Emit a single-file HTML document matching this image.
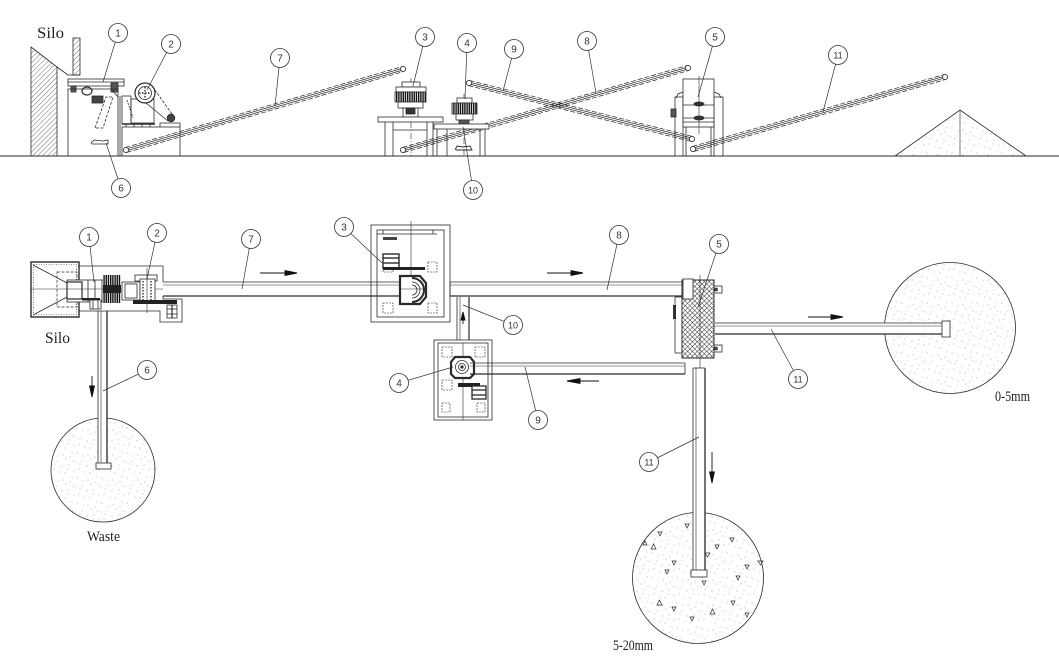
<!DOCTYPE html>
<html><head><meta charset="utf-8"><style>
html,body{margin:0;padding:0;background:#fff;}
svg{display:block;}
.n{font-family:"Liberation Sans",sans-serif;font-size:10px;fill:#333;}
.s{font-family:"Liberation Serif",serif;fill:#222;}
</style></head><body>
<svg width="1059" height="659" viewBox="0 0 1059 659" xmlns="http://www.w3.org/2000/svg">
<defs>
<pattern id="dots" width="25" height="25" patternUnits="userSpaceOnUse">
<circle cx="2" cy="3" r="0.55" fill="#999"/><circle cx="7" cy="11" r="0.5" fill="#aaa"/><circle cx="13" cy="5" r="0.55" fill="#999"/><circle cx="19" cy="15" r="0.5" fill="#999"/><circle cx="22" cy="2" r="0.5" fill="#aaa"/><circle cx="4" cy="19" r="0.55" fill="#999"/><circle cx="10" cy="22" r="0.5" fill="#aaa"/><circle cx="16" cy="9" r="0.55" fill="#999"/><circle cx="24" cy="20" r="0.5" fill="#999"/><circle cx="1" cy="12" r="0.5" fill="#aaa"/><circle cx="12" cy="16" r="0.55" fill="#999"/><circle cx="20" cy="7" r="0.5" fill="#999"/><circle cx="8" cy="6" r="0.5" fill="#aaa"/><circle cx="15" cy="23" r="0.55" fill="#999"/><circle cx="5" cy="14" r="0.5" fill="#999"/><circle cx="18" cy="19" r="0.5" fill="#aaa"/><circle cx="23" cy="11" r="0.5" fill="#999"/>
</pattern>
<pattern id="hatch" width="3.5" height="3.5" patternUnits="userSpaceOnUse" patternTransform="rotate(45)">
<line x1="0" y1="0" x2="0" y2="3.5" stroke="#333" stroke-width="0.7"/>
</pattern>
<pattern id="xh" width="3.4" height="3.4" patternUnits="userSpaceOnUse" patternTransform="rotate(45)">
<rect width="3.4" height="3.4" fill="#fff"/>
<line x1="0" y1="0" x2="0" y2="3.4" stroke="#222" stroke-width="0.9"/>
<line x1="0" y1="0" x2="3.4" y2="0" stroke="#222" stroke-width="0.9"/>
</pattern>
<pattern id="vs" width="2.2" height="4" patternUnits="userSpaceOnUse">
<rect width="2.2" height="4" fill="#fff"/><rect width="1.4" height="4" fill="#111"/>
</pattern>
</defs>

<g stroke="#2a2a2a" stroke-width="0.8" fill="none">
<!-- ============ ELEVATION ============ -->
<line x1="0" y1="156" x2="1059" y2="156" stroke-width="1"/>

<!-- silo -->
<polygon points="31,47 57,67 57,156 31,156" fill="url(#hatch)"/>
<line x1="57" y1="67" x2="68" y2="75"/>
<line x1="68" y1="75" x2="80" y2="75"/>
<rect x="73" y="38" width="7" height="37" fill="url(#hatch)"/>

<!-- feeder 1 -->
<rect x="68" y="79" width="56" height="7" fill="#fff"/>
<line x1="68" y1="82" x2="124" y2="82"/>
<rect x="71" y="86" width="5" height="6" fill="#555"/>
<rect x="111" y="83" width="7" height="9" fill="#555"/>
<ellipse cx="87" cy="91" rx="5" ry="4" fill="#fff" stroke-width="1.2"/>
<rect x="92" y="96" width="11" height="7" fill="#444"/>
<rect x="68" y="89" width="50" height="67"/>
<line x1="120" y1="96" x2="120" y2="156"/>
<line x1="112" y1="90" x2="118" y2="97"/>
<polyline points="95,128 106,97 113,97 103,128 95,128" stroke-dasharray="3 1.5"/>
<polyline points="91,143 94,140 103,141 108,140 108,144 92,144 91,143" stroke-width="0.8"/>

<!-- jaw crusher 2 -->
<rect x="122" y="96" width="9" height="28"/>
<rect x="131" y="99" width="23" height="24"/>
<line x1="127" y1="100" x2="133" y2="118" stroke-dasharray="2 1"/>
<line x1="122" y1="124" x2="155" y2="124" stroke-width="1.5"/>
<line x1="126" y1="124" x2="126" y2="127"/><line x1="134" y1="124" x2="134" y2="127"/><line x1="142" y1="124" x2="142" y2="127"/><line x1="150" y1="124" x2="150" y2="127"/>
<circle cx="145" cy="93" r="10" fill="#fff" stroke-width="1.2"/>
<circle cx="145" cy="93" r="6.5"/>
<line x1="139" y1="93" x2="151" y2="93" stroke-dasharray="1.5 1.5" stroke-width="1.4"/>
<line x1="145" y1="87" x2="145" y2="99" stroke-dasharray="1.5 1.5" stroke-width="1.4"/>
<line x1="152" y1="86" x2="172" y2="114" stroke-dasharray="3 1.5"/>
<line x1="146" y1="103" x2="168" y2="121"/>
<rect x="122" y="127" width="58" height="29"/>
<polyline points="160,127 160,123 180,123 180,127"/>
<circle cx="171" cy="118" r="3.8" fill="#444"/>

<!-- conveyors elevation -->
<g transform="translate(126,150) rotate(-16.3)">
<line x1="0" y1="-2.6" x2="288.6" y2="-2.6" stroke-dasharray="5 2" stroke-width="0.7"/>
<line x1="0" y1="-0.9" x2="288.6" y2="-0.9" stroke-width="0.7"/>
<line x1="0" y1="0.9" x2="288.6" y2="0.9" stroke-width="0.7"/>
<line x1="0" y1="2.6" x2="288.6" y2="2.6" stroke-dasharray="5 2" stroke-width="0.7"/>
<circle cx="0" cy="0" r="2.6" fill="#fff"/><circle cx="288.6" cy="0" r="2.6" fill="#fff"/>
</g>
<g transform="translate(403,150) rotate(-16.05)">
<line x1="0" y1="-2.6" x2="296.6" y2="-2.6" stroke-dasharray="5 2" stroke-width="0.7"/>
<line x1="0" y1="-0.9" x2="296.6" y2="-0.9" stroke-width="0.7"/>
<line x1="0" y1="0.9" x2="296.6" y2="0.9" stroke-width="0.7"/>
<line x1="0" y1="2.6" x2="296.6" y2="2.6" stroke-dasharray="5 2" stroke-width="0.7"/>
<circle cx="0" cy="0" r="2.6" fill="#fff"/><circle cx="296.6" cy="0" r="2.6" fill="#fff"/>
</g>
<g transform="translate(469,83) rotate(14.1)">
<line x1="0" y1="-2.6" x2="229.9" y2="-2.6" stroke-dasharray="5 2" stroke-width="0.7"/>
<line x1="0" y1="-0.9" x2="229.9" y2="-0.9" stroke-width="0.7"/>
<line x1="0" y1="0.9" x2="229.9" y2="0.9" stroke-width="0.7"/>
<line x1="0" y1="2.6" x2="229.9" y2="2.6" stroke-dasharray="5 2" stroke-width="0.7"/>
<circle cx="0" cy="0" r="2.6" fill="#fff"/><circle cx="229.9" cy="0" r="2.6" fill="#fff"/>
</g>
<g transform="translate(693,149) rotate(-15.95)">
<line x1="0" y1="-2.6" x2="262.1" y2="-2.6" stroke-dasharray="5 2" stroke-width="0.7"/>
<line x1="0" y1="-0.9" x2="262.1" y2="-0.9" stroke-width="0.7"/>
<line x1="0" y1="0.9" x2="262.1" y2="0.9" stroke-width="0.7"/>
<line x1="0" y1="2.6" x2="262.1" y2="2.6" stroke-dasharray="5 2" stroke-width="0.7"/>
<circle cx="0" cy="0" r="2.6" fill="#fff"/><circle cx="262.1" cy="0" r="2.6" fill="#fff"/>
</g>

<!-- cone crusher 3 -->
<line x1="411" y1="78" x2="411" y2="156" stroke-dasharray="6 2 1 2" stroke-width="0.6"/>
<rect x="402" y="82" width="18" height="5" fill="#fff"/>
<rect x="396" y="87" width="30" height="5" fill="#fff"/>
<rect x="395" y="92" width="31" height="10" fill="url(#vs)"/>
<rect x="398" y="102" width="25" height="6" fill="#fff"/>
<rect x="403" y="108" width="15" height="9" fill="#fff"/>
<rect x="406" y="108" width="9" height="6" fill="#333"/>
<rect x="378" y="117" width="65" height="5" fill="#fff"/>
<line x1="385" y1="122" x2="385" y2="156"/><line x1="393" y1="122" x2="393" y2="156"/>
<line x1="427" y1="122" x2="427" y2="156"/><line x1="433" y1="122" x2="433" y2="156"/>
<line x1="393" y1="130" x2="427" y2="130"/>

<!-- cone crusher 4 -->
<line x1="464" y1="94" x2="464" y2="156" stroke-dasharray="6 2 1 2" stroke-width="0.6"/>
<rect x="457" y="98" width="15" height="5" fill="#fff"/>
<rect x="452" y="103" width="25" height="11" fill="url(#vs)"/>
<rect x="456" y="114" width="17" height="6" fill="#fff"/>
<rect x="459" y="120" width="10" height="5" fill="#555"/>
<rect x="434" y="124" width="55" height="5" fill="#fff"/>
<line x1="437" y1="129" x2="437" y2="156"/><line x1="447" y1="129" x2="447" y2="156"/>
<line x1="480" y1="129" x2="480" y2="156"/><line x1="485" y1="129" x2="485" y2="156"/>
<polyline points="455,150 457,146 463,147 470,146 472,150 456,150" stroke-width="0.9"/>

<!-- screen 5 -->
<rect x="675" y="97" width="8" height="59"/>
<rect x="714" y="97" width="9" height="59"/>
<line x1="686" y1="127" x2="686" y2="156"/><line x1="711" y1="127" x2="711" y2="156"/>
<rect x="683" y="79" width="31" height="48" fill="#fff"/>
<line x1="683" y1="105" x2="714" y2="105"/>
<line x1="683" y1="118" x2="714" y2="118"/>
<line x1="683" y1="122" x2="714" y2="122"/>
<polyline points="683,92 678,94 676,98"/><polyline points="714,92 719,94 721,98"/>
<ellipse cx="699" cy="104" rx="5" ry="2" fill="#333"/>
<ellipse cx="699" cy="118" rx="5" ry="2" fill="#333"/>
<rect x="671" y="109" width="5" height="8" fill="#555"/>
<line x1="699" y1="76" x2="699" y2="134" stroke-width="0.6"/>

<!-- pile -->
<polygon points="895,156 960,110 1026,156" fill="url(#dots)"/>
<line x1="960" y1="110" x2="960" y2="156" stroke-width="0.6"/>

<!-- ============ PLAN ============ -->
<!-- circles -->
<circle cx="103" cy="470" r="52" fill="url(#dots)"/>
<circle cx="950" cy="328" r="65.5" fill="url(#dots)"/>
<circle cx="698" cy="578" r="65.5" fill="url(#dots)"/>
<g stroke-width="0.7">
<polygon points="685,524 689,524 687,528"/><polygon points="658,532 662,532 660,536"/><polygon points="651,549 656,549 653.5,544"/><polygon points="643,545 647,545 645,541"/><polygon points="715,545 719,545 717,549"/><polygon points="730,538 734,538 732,542"/><polygon points="705,553 710,553 707.5,557"/><polygon points="672,561 676,561 674,565"/><polygon points="665,570 669,570 667,574"/><polygon points="745,565 749,565 747,569"/><polygon points="758,561 763,561 760.5,565"/><polygon points="736,576 740,576 738,580"/><polygon points="702,581 706,581 704,585"/><polygon points="657,605 662,605 659.5,600"/><polygon points="672,607 676,607 674,611"/><polygon points="710,614 715,614 712.5,609"/><polygon points="731,601 735,601 733,605"/><polygon points="690,617 694,617 692,621"/><polygon points="745,613 749,613 747,617"/>
</g>

<!-- silo plan -->
<rect x="31" y="262" width="48" height="55" stroke-width="1.4"/>
<rect x="33.5" y="264.5" width="43" height="50" stroke-dasharray="1 1.5" stroke-width="0.6"/>
<line x1="33" y1="265" x2="67" y2="283"/>
<line x1="33" y1="315" x2="67" y2="297"/>
<rect x="57" y="272" width="20" height="35" stroke-dasharray="3 1.5" stroke-width="0.7"/>
<line x1="31" y1="289" x2="163" y2="289" stroke-width="0.6"/>

<!-- outline -->
<polyline points="79,266 163,266 163,282"/>
<polyline points="163,296 163,299 182,299 182,322 160,322 160,311 79,311"/>

<!-- feeder plan -->
<rect x="67" y="280" width="42" height="22" fill="#fff"/>
<rect x="67" y="282" width="15" height="17" stroke-width="1.2"/>
<line x1="88" y1="280" x2="88" y2="302"/><line x1="95" y1="280" x2="95" y2="302"/><line x1="102" y1="280" x2="102" y2="302"/>
<line x1="67" y1="289" x2="109" y2="289" stroke-width="0.6"/>
<rect x="103" y="275" width="18" height="28" fill="url(#vs)" stroke="none"/>
<rect x="103" y="285" width="18" height="8" fill="#222" stroke="none"/>
<rect x="122" y="282" width="18" height="18" fill="#fff"/>
<rect x="125" y="284" width="12" height="14"/>
<rect x="82" y="298" width="18" height="2.5" fill="#222" stroke="none"/>
<rect x="90" y="300" width="11" height="9" fill="#fff"/>
<line x1="93" y1="300" x2="93" y2="309"/><line x1="98" y1="300" x2="98" y2="309"/>

<!-- crusher 2 plan -->
<rect x="135" y="275" width="22" height="6" fill="#fff"/>
<rect x="140" y="279" width="15" height="23" fill="#fff"/>
<line x1="143" y1="281" x2="143" y2="300" stroke-dasharray="1.5 1.5" stroke-width="1.4"/>
<line x1="151" y1="281" x2="151" y2="300" stroke-dasharray="1.5 1.5" stroke-width="1.4"/>
<line x1="147" y1="268" x2="147" y2="313" stroke-width="0.6"/>
<rect x="133" y="300" width="44" height="4" fill="#222" stroke="none"/>
<rect x="167" y="305" width="10" height="13" fill="#fff"/>
<line x1="167" y1="309" x2="177" y2="309"/><line x1="167" y1="314" x2="177" y2="314"/>
<line x1="172" y1="305" x2="172" y2="318" stroke-width="1.2"/>

<!-- conveyor 7 plan -->
<line x1="163" y1="282" x2="405" y2="282"/>
<line x1="163" y1="285" x2="405" y2="285" stroke-width="0.6"/>
<line x1="163" y1="296" x2="405" y2="296" stroke-width="1.3"/>
<path d="M405,282 A7,7 0 0 1 405,296"/>

<!-- crusher 3 plan -->
<rect x="371" y="225" width="79" height="97"/>
<rect x="377" y="230" width="67" height="87"/>
<line x1="411" y1="221" x2="411" y2="276" stroke-width="0.6"/>
<line x1="377" y1="234" x2="437" y2="234"/>
<line x1="383" y1="230" x2="383" y2="234"/><line x1="433" y1="230" x2="433" y2="234"/>
<rect x="383" y="237" width="14" height="3" fill="#444" stroke="none"/>
<rect x="383" y="262" width="10" height="10" stroke-dasharray="2 1" stroke-width="0.6"/>
<rect x="428" y="262" width="9" height="10" stroke-dasharray="2 1" stroke-width="0.6"/>
<rect x="383" y="303" width="10" height="10" stroke-dasharray="2 1" stroke-width="0.6"/>
<rect x="428" y="303" width="9" height="10" stroke-dasharray="2 1" stroke-width="0.6"/>
<rect x="383" y="254" width="16" height="14" fill="#fff" stroke-width="1.4"/>
<line x1="383" y1="258" x2="399" y2="258" stroke-width="1.4"/><line x1="383" y1="263" x2="399" y2="263" stroke-width="1.4"/>
<rect x="383" y="267" width="42" height="3" fill="#222" stroke="none"/>
<polygon points="400,276 420,276 426,283 426,297 420,304 400,304" fill="#fff" stroke-width="2.2"/>
<path d="M412,278 A12,12 0 0 1 412,302" stroke-width="2"/>
<path d="M412,282 A8,8 0 0 1 412,298"/>
<path d="M412,285 A5,5 0 0 1 412,295"/>
<line x1="400" y1="289" x2="426" y2="289" stroke-width="0.6"/>

<!-- conveyor 8 plan -->
<line x1="450" y1="282" x2="683" y2="282"/>
<line x1="450" y1="285" x2="683" y2="285" stroke-width="0.6"/>
<line x1="450" y1="296" x2="683" y2="296" stroke-width="1.3"/>
<line x1="450" y1="282" x2="450" y2="296"/>

<!-- conveyor 10 -->
<line x1="457" y1="297" x2="457" y2="340"/>
<line x1="460" y1="297" x2="460" y2="340" stroke-width="0.6"/>
<line x1="469" y1="297" x2="469" y2="340" stroke-width="1.2"/>

<!-- crusher 4 plan -->
<rect x="434" y="340" width="58" height="80"/>
<rect x="438" y="343" width="50" height="74"/>
<line x1="463" y1="343" x2="463" y2="420" stroke-width="0.6"/>
<rect x="442" y="347" width="10" height="10" stroke-dasharray="2 1" stroke-width="0.6"/>
<rect x="475" y="347" width="10" height="10" stroke-dasharray="2 1" stroke-width="0.6"/>
<rect x="442" y="380" width="10" height="10" stroke-dasharray="2 1" stroke-width="0.6"/>
<rect x="442" y="403" width="8" height="9" stroke-dasharray="2 1" stroke-width="0.6"/>
<rect x="477" y="403" width="8" height="9" stroke-dasharray="2 1" stroke-width="0.6"/>
<polygon points="455,357 470,357 474,362 474,374 470,378 455,378 451,374 451,362" fill="#fff" stroke-width="2.2"/>
<circle cx="462" cy="367" r="6.5"/>
<circle cx="462" cy="367" r="3.5"/>
<circle cx="462" cy="367" r="1.2" fill="#333"/>
<rect x="458" y="383" width="22" height="4" fill="#222" stroke="none"/>
<rect x="472" y="386" width="14" height="13" fill="#fff" stroke-width="1.3"/>
<line x1="472" y1="390" x2="486" y2="390" stroke-width="1.3"/><line x1="472" y1="395" x2="486" y2="395" stroke-width="1.3"/>

<!-- conveyor 9 plan -->
<line x1="470" y1="363" x2="685" y2="363"/>
<line x1="470" y1="366" x2="685" y2="366" stroke-width="0.6"/>
<line x1="470" y1="374" x2="685" y2="374" stroke-width="1.3"/>
<line x1="685" y1="363" x2="685" y2="374"/>

<!-- screen 5 plan -->
<line x1="675" y1="297" x2="675" y2="353"/>
<line x1="682" y1="297" x2="682" y2="353"/>
<line x1="675" y1="297" x2="682" y2="297"/><line x1="675" y1="353" x2="682" y2="353"/>
<rect x="673" y="305" width="3" height="14" fill="#333" stroke="none"/>
<rect x="682" y="280" width="32" height="78" fill="url(#xh)" stroke-width="1"/>
<rect x="683" y="279" width="10" height="20" fill="#fff"/>
<rect x="714" y="286" width="8" height="7"/><circle cx="716" cy="289.5" r="1.5" fill="#555"/>
<rect x="714" y="345" width="8" height="7"/><circle cx="716" cy="348.5" r="1.5" fill="#555"/>
<line x1="700" y1="275" x2="700" y2="370" stroke-width="0.6"/>

<!-- conveyor 11 horizontal -->
<rect x="715" y="323" width="228" height="11" fill="#fff" stroke="none"/>
<line x1="715" y1="323" x2="943" y2="323"/>
<line x1="715" y1="326" x2="943" y2="326" stroke-width="0.6"/>
<line x1="715" y1="334" x2="943" y2="334" stroke-width="1.3"/>
<rect x="942" y="321" width="8" height="16" fill="#fff"/>

<!-- conveyor 11 vertical -->
<rect x="693" y="368" width="12" height="202" fill="#fff" stroke="none"/>
<line x1="693" y1="368" x2="693" y2="572"/>
<line x1="696" y1="368" x2="696" y2="572" stroke-width="0.6"/>
<line x1="705" y1="368" x2="705" y2="572" stroke-width="1.3"/>
<line x1="693" y1="368" x2="705" y2="368"/>
<rect x="691" y="570" width="16" height="7" fill="#fff"/>

<!-- conveyor 6 -->
<rect x="98" y="313" width="9" height="150" fill="#fff" stroke="none"/>
<line x1="98" y1="311" x2="98" y2="464"/>
<line x1="101" y1="311" x2="101" y2="464" stroke-width="0.6"/>
<line x1="107" y1="311" x2="107" y2="464" stroke-width="1.3"/>
<rect x="96" y="463" width="15" height="6" fill="#fff"/>
</g>

<!-- arrows -->
<g stroke="#111" stroke-width="0.9" fill="#111">
<line x1="260" y1="273" x2="288" y2="273"/><polygon points="285,270.6 297,273 285,275.4"/>
<line x1="547" y1="273" x2="574" y2="273"/><polygon points="571,270.6 583,273 571,275.4"/>
<line x1="578" y1="381" x2="599" y2="381"/><polygon points="580,378.6 567,381 580,383.4"/>
<line x1="808" y1="317" x2="834" y2="317"/><polygon points="831,314.6 843,317 831,319.4"/>
<line x1="92" y1="376" x2="92" y2="388"/><polygon points="89.6,386 92,397 94.4,386"/>
<line x1="463" y1="313" x2="463" y2="324"/><polygon points="461,320 463,312 465,320"/>
<line x1="712" y1="452" x2="712" y2="474"/><polygon points="709.6,472 712,483 714.4,472"/>
</g>

<!-- balloons -->
<g stroke="#333" stroke-width="0.7">
<line x1="118" y1="33" x2="103" y2="82"/><line x1="171" y1="44" x2="147" y2="90"/><line x1="280" y1="58" x2="275" y2="106"/><line x1="121" y1="188" x2="106" y2="143"/><line x1="425" y1="37" x2="413" y2="86"/><line x1="467" y1="43" x2="465" y2="99"/><line x1="514" y1="49" x2="503" y2="91"/><line x1="587" y1="41" x2="596" y2="93"/><line x1="715" y1="37" x2="698" y2="97"/><line x1="473" y1="190" x2="463" y2="127"/><line x1="838" y1="55" x2="823" y2="112"/>
<line x1="89" y1="237" x2="94" y2="282"/><line x1="157" y1="233" x2="147" y2="279"/><line x1="251" y1="239" x2="242" y2="289"/><line x1="344" y1="227" x2="382" y2="263"/><line x1="619" y1="235" x2="607" y2="290"/><line x1="719" y1="244" x2="698" y2="307"/><line x1="513" y1="325" x2="463" y2="305"/><line x1="399" y1="383" x2="453" y2="367"/><line x1="538" y1="420" x2="525" y2="367"/><line x1="147" y1="370" x2="103" y2="391"/><line x1="798" y1="379" x2="771" y2="329"/><line x1="649" y1="462" x2="699" y2="437"/>
</g>
<g fill="#fff" stroke="#333" stroke-width="0.8">
<circle cx="118" cy="33" r="9.5"/><circle cx="171" cy="44" r="9.5"/><circle cx="280" cy="58" r="9.5"/><circle cx="121" cy="188" r="9.5"/><circle cx="425" cy="37" r="9.5"/><circle cx="467" cy="43" r="9.5"/><circle cx="514" cy="49" r="9.5"/><circle cx="587" cy="41" r="9.5"/><circle cx="715" cy="37" r="9.5"/><circle cx="473" cy="190" r="9.5"/><circle cx="838" cy="55" r="9.5"/>
<circle cx="89" cy="237" r="9.5"/><circle cx="157" cy="233" r="9.5"/><circle cx="251" cy="239" r="9.5"/><circle cx="344" cy="227" r="9.5"/><circle cx="619" cy="235" r="9.5"/><circle cx="719" cy="244" r="9.5"/><circle cx="513" cy="325" r="9.5"/><circle cx="399" cy="383" r="9.5"/><circle cx="538" cy="420" r="9.5"/><circle cx="147" cy="370" r="9.5"/><circle cx="798" cy="379" r="9.5"/><circle cx="649" cy="462" r="9.5"/>
</g>
<g class="n" text-anchor="middle">
<text x="118" y="36.5">1</text><text x="171" y="47.5">2</text><text x="280" y="61.5">7</text><text x="121" y="191.5">6</text><text x="425" y="40.5">3</text><text x="467" y="46.5">4</text><text x="514" y="52.5">9</text><text x="587" y="44.5">8</text><text x="715" y="40.5">5</text><text x="473" y="193.5" font-size="9">10</text><text x="838" y="58.5" font-size="9">11</text>
<text x="89" y="240.5">1</text><text x="157" y="236.5">2</text><text x="251" y="242.5">7</text><text x="344" y="230.5">3</text><text x="619" y="238.5">8</text><text x="719" y="247.5">5</text><text x="513" y="328.5" font-size="9">10</text><text x="399" y="386.5">4</text><text x="538" y="423.5">9</text><text x="147" y="373.5">6</text><text x="798" y="382.5" font-size="9">11</text><text x="649" y="465.5" font-size="9">11</text>
</g>

<!-- labels -->
<text class="s" x="37" y="38" font-size="16" textLength="27" lengthAdjust="spacingAndGlyphs">Silo</text>
<text class="s" x="45" y="343" font-size="16" textLength="25" lengthAdjust="spacingAndGlyphs">Silo</text>
<text class="s" x="87" y="541" font-size="15" textLength="33" lengthAdjust="spacingAndGlyphs">Waste</text>
<text class="s" x="995" y="401" font-size="15" textLength="35" lengthAdjust="spacingAndGlyphs">0-5mm</text>
<text class="s" x="613" y="650" font-size="15" textLength="40" lengthAdjust="spacingAndGlyphs">5-20mm</text>
</svg>
</body></html>
